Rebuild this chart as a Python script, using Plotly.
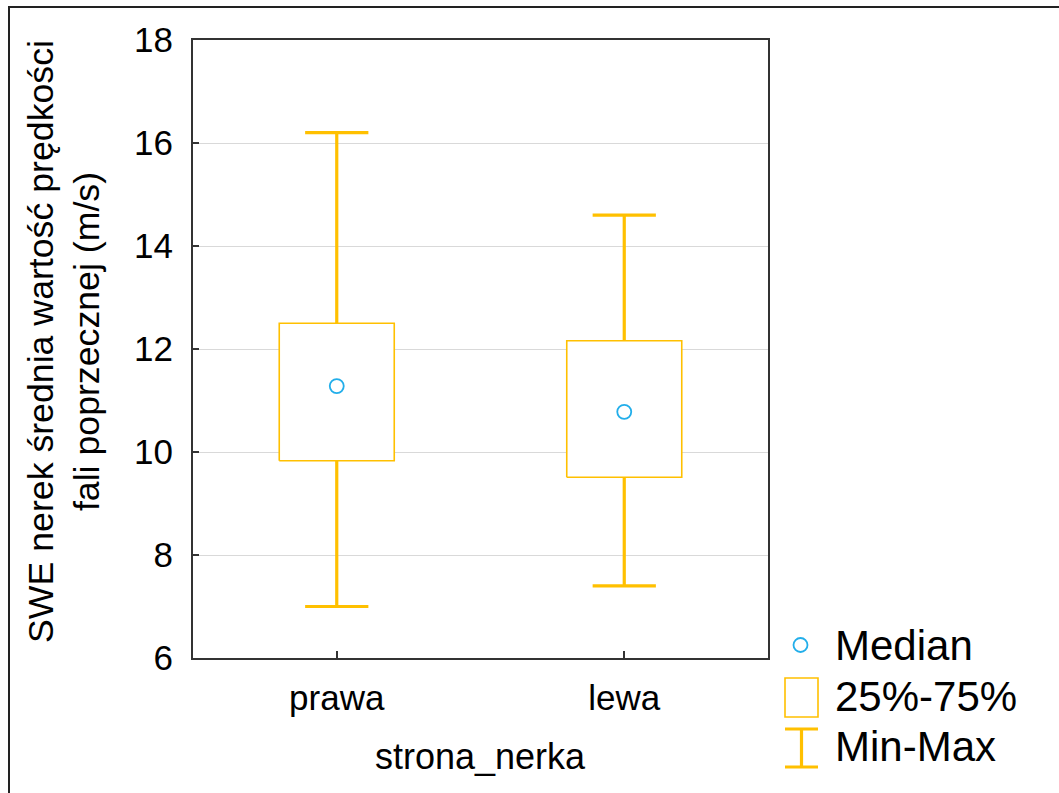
import plotly.graph_objects as go

categories = ["prawa", "lewa"]
q_min = [7.0, 7.4]
q1 = [9.83, 9.51]
median = [11.28, 10.78]
q3 = [12.5, 12.16]
q_max = [16.2, 14.6]
y_ticks = [6, 8, 10, 12, 14, 16, 18]

ORANGE = "#FFC000"
BLUE = "#22AEEA"
FONT = "Liberation Sans, Arial, sans-serif"

W, H = 1059, 793
L, R, T, B = 193, 768, 40, 658

box_half = 0.2
cap_half = 0.11

fig = go.Figure()

# whiskers
wx, wy = [], []
for i in range(len(categories)):
    wx += [i, i, None, i, i, None, i - cap_half, i + cap_half, None, i - cap_half, i + cap_half, None]
    wy += [q_max[i], q3[i], None, q1[i], q_min[i], None, q_max[i], q_max[i], None, q_min[i], q_min[i], None]
fig.add_trace(go.Scatter(x=wx, y=wy, mode="lines", line=dict(color=ORANGE, width=3.2),
                         hoverinfo="skip", showlegend=False))

# boxes
for i in range(len(categories)):
    fig.add_trace(go.Scatter(
        x=[i - box_half, i + box_half, i + box_half, i - box_half, i - box_half],
        y=[q1[i], q1[i], q3[i], q3[i], q1[i]],
        mode="lines", fill="toself", fillcolor="white",
        line=dict(color=ORANGE, width=1.6), hoverinfo="skip", showlegend=False))

# medians
fig.add_trace(go.Scatter(x=list(range(len(categories))), y=median, mode="markers",
                         marker=dict(symbol="circle-open", size=14, color=BLUE, line=dict(width=1.8)),
                         showlegend=False))

def px(xp):
    return (xp - L) / (R - L)

def py(yp):
    return (B - yp) / (B - T)

shapes = []
# outer frame
shapes.append(dict(type="rect", xref="paper", yref="paper", x0=px(9), x1=px(1075), y0=py(810), y1=py(7),
                   line=dict(color="#222222", width=2), layer="below"))
# legend: box symbol
shapes.append(dict(type="rect", xref="paper", yref="paper", x0=px(785), x1=px(818), y0=py(717), y1=py(678),
                   line=dict(color=ORANGE, width=1.6)))
# legend: min-max symbol
for (a, b_, c, d) in [(785, 729, 818, 729), (785, 767, 818, 767), (801.5, 729, 801.5, 767)]:
    shapes.append(dict(type="line", xref="paper", yref="paper", x0=px(a), y0=py(b_), x1=px(c), y1=py(d),
                       line=dict(color=ORANGE, width=3.2)))
# legend: median symbol
shapes.append(dict(type="circle", xref="paper", yref="paper", x0=px(793.5), x1=px(807.5), y0=py(652), y1=py(638),
                   line=dict(color=BLUE, width=1.8)))

annotations = []
for txt, yc in [("Median", 645), ("25%-75%", 696), ("Min-Max", 746)]:
    annotations.append(dict(text=txt, xref="paper", yref="paper", x=px(833), y=py(yc), xanchor="left",
                            yanchor="middle", showarrow=False, font=dict(family=FONT, size=42, color="#000")))
annotations.append(dict(text="SWE nerek średnia wartość prędkości<br>fali poprzecznej (m/s)",
                        xref="paper", yref="paper", x=px(64), y=py(342), xanchor="center", yanchor="middle",
                        textangle=-90, showarrow=False, font=dict(family=FONT, size=35.7, color="#000")))
annotations.append(dict(text="strona_nerka", xref="paper", yref="paper", x=px(480), y=py(756),
                        xanchor="center", yanchor="middle", showarrow=False,
                        font=dict(family=FONT, size=36, color="#000")))

fig.update_layout(
    width=W, height=H,
    margin=dict(l=L, r=W - R, t=T, b=H - B),
    paper_bgcolor="white", plot_bgcolor="white",
    shapes=shapes, annotations=annotations,
    font=dict(family=FONT, size=35, color="#000"),
    xaxis=dict(range=[-0.5, len(categories) - 0.5], tickvals=list(range(len(categories))), ticktext=categories,
               showgrid=False, zeroline=False, showline=True, mirror=True, linecolor="#333333", linewidth=2,
               ticks="inside", ticklen=7, tickwidth=1.5, tickcolor="#333333",
               tickfont=dict(family=FONT, size=35, color="#000"), ticklabelstandoff=8),
    yaxis=dict(range=[6, 18], tickvals=y_ticks, showgrid=True, gridcolor="#d9d9d9", gridwidth=1.2,
               zeroline=False, showline=True, mirror=True, linecolor="#333333", linewidth=2,
               ticks="inside", ticklen=6, tickwidth=1.5, tickcolor="#333333",
               tickfont=dict(family=FONT, size=35, color="#000"), ticklabelstandoff=11),
)

fig.write_html("out.html")
